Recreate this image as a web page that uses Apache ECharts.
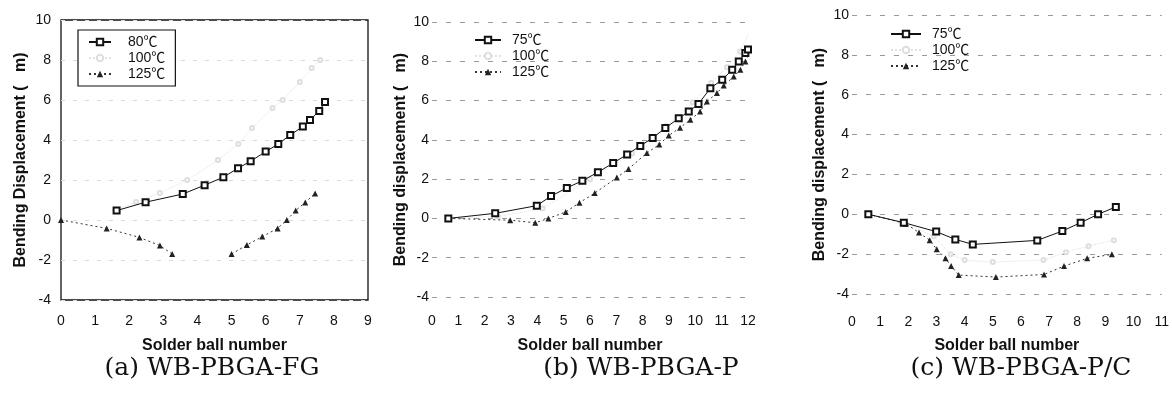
<!DOCTYPE html>
<html><head><meta charset="utf-8">
<script src="https://cdn.jsdelivr.net/npm/echarts@6/dist/echarts.min.js"></script>
<style>html,body{margin:0;padding:0;background:#fff}#c{width:1172px;height:394px}</style>
</head><body><div id="c"></div>
<script>
// ---------- Panel (a) WB-PBGA-FG ----------
const aTicksX = [0,1,2,3,4,5,6,7,8,9];
const a80X  = [1.63, 2.48, 3.57, 4.21, 4.76, 5.19, 5.56, 6.00, 6.37, 6.72, 7.09, 7.30, 7.57, 7.74];
const a80Y  = [0.47, 0.89, 1.30, 1.74, 2.14, 2.59, 2.94, 3.42, 3.80, 4.25, 4.67, 5.00, 5.45, 5.90];
const a100X = [1.60, 2.20, 2.90, 3.70, 4.60, 5.20, 5.60, 6.20, 6.50, 7.00, 7.35, 7.60];
const a100Y = [0.50, 0.90, 1.35, 2.00, 3.00, 3.80, 4.60, 5.60, 6.00, 6.90, 7.60, 8.00];
const a125X = [0, 1.34, 2.30, 2.90, 3.26, null, 5.00, 5.45, 5.90, 6.35, 6.62, 6.88, 7.16, 7.45];
const a125Y = [0, -0.42, -0.87, -1.28, -1.70, null, -1.70, -1.25, -0.83, -0.42, 0, 0.47, 0.88, 1.33];

// ---------- Panel (b) WB-PBGA-P ----------
const b75X  = [0.62, 2.40, 3.98, 4.52, 5.12, 5.71, 6.30, 6.88, 7.41, 7.91, 8.38, 8.86, 9.37, 9.75, 10.12, 10.57, 11.02, 11.40, 11.65, 11.90, 12.00];
const b75Y  = [0, 0.26, 0.65, 1.14, 1.55, 1.92, 2.35, 2.82, 3.26, 3.69, 4.10, 4.60, 5.10, 5.44, 5.83, 6.63, 7.06, 7.57, 7.99, 8.42, 8.60];
const b100X = [0.62, 2.50, 4.20, 6.00, 7.60, 8.90, 9.90, 10.60, 11.20, 11.70, 12.10];
const b100Y = [0, 0.10, 0.50, 2.00, 3.30, 4.70, 5.90, 6.90, 7.70, 8.50, 9.60];
const b125X = [0.62, 2.97, 3.92, 4.42, 5.08, 5.60, 6.18, 7.02, 7.46, 8.16, 8.63, 8.99, 9.42, 9.81, 10.18, 10.44, 10.82, 11.08, 11.46, 11.71, 11.90, 12.03];
const b125Y = [0, -0.09, -0.22, 0, 0.33, 0.80, 1.29, 2.08, 2.52, 3.33, 3.76, 4.22, 4.62, 5.02, 5.44, 5.95, 6.38, 6.77, 7.22, 7.57, 7.99, 8.33];

// ---------- Panel (c) WB-PBGA-P/C ----------
const c75X  = [0.58, 1.84, 2.99, 3.67, 4.29, 6.58, 7.47, 8.12, 8.74, 9.37];
const c75Y  = [0, -0.42, -0.87, -1.26, -1.51, -1.31, -0.84, -0.42, 0, 0.37];
const c100X = [0.58, 1.90, 2.90, 3.50, 4.00, 5.00, 6.80, 7.60, 8.40, 9.30];
const c100Y = [0, -0.45, -1.10, -2.00, -2.30, -2.40, -2.30, -1.90, -1.60, -1.30];
const c125X = [0.58, 1.91, 2.38, 2.76, 3.01, 3.32, 3.52, 3.79, 5.11, 6.82, 7.53, 8.35, 9.23];
const c125Y = [0, -0.47, -0.92, -1.30, -1.76, -2.21, -2.60, -3.05, -3.15, -3.02, -2.60, -2.21, -2.01];

const captions = ['(a) WB-PBGA-FG', '(b) WB-PBGA-P', '(c) WB-PBGA-P/C'];
const yNames = ['Bending Displacement (   m)', 'Bending displacement (   m)', 'Bending displacement (   m)'];
const xName = 'Solder ball number';
const namesA = ['80℃', '100℃', '125℃'];
const namesBC = ['75℃', '100℃', '125℃'];

function pts(xs, ys) { return xs.map((x, i) => x == null ? ['-', '-'] : [x, ys[i]]); }

const SANS = '"Liberation Sans", Arial, "Noto Sans CJK KR", sans-serif';
const grids = [
  {left: 61, top: 20, width: 307, height: 280, show: true, borderColor: '#111', borderWidth: 1.3, backgroundColor: 'transparent'},
  {left: 432, top: 22, width: 316, height: 275},
  {left: 852, top: 15, width: 311, height: 279}
];
const xMax = [9, 12, 11];
const xLabMargin = [14, 17, 21];
const xNameGap = [38, 41, 44];
const yNameGap = [32, 23, 24];
const yLabMargin = [10, 3, 3];
const gridLine = [
  {color: '#dadada', type: [4, 8], width: 1},
  {color: '#9a9a9a', type: [5, 9], width: 1},
  {color: '#9a9a9a', type: [5, 9], width: 1}
];

const xAxis = [0,1,2].map(i => ({
  gridIndex: i, type: 'value', min: 0, max: xMax[i], interval: 1,
  axisLine: {show: false}, axisTick: {show: false}, splitLine: {show: false},
  axisLabel: {color: '#111', fontSize: 14, fontFamily: SANS, margin: xLabMargin[i]},
  name: xName, nameLocation: 'middle', nameGap: xNameGap[i],
  nameTextStyle: {color: '#111', fontSize: 16, fontWeight: 'bold', fontFamily: SANS}
}));
const yAxis = [0,1,2].map(i => ({
  gridIndex: i, type: 'value', min: -4, max: 10, interval: 2,
  axisLine: {show: false}, axisTick: {show: false},
  splitLine: {show: true, lineStyle: gridLine[i]},
  axisLabel: {color: '#111', fontSize: 14, fontFamily: SANS, margin: yLabMargin[i]},
  name: yNames[i], nameLocation: 'middle', nameGap: yNameGap[i],
  nameTextStyle: {color: '#111', fontSize: 16, fontWeight: 'bold', fontFamily: SANS}
}));

function sSolid(name, gi, data) {
  return {name, type: 'line', xAxisIndex: gi, yAxisIndex: gi, data,
    symbol: 'emptyRect', symbolSize: 6, showSymbol: true,
    lineStyle: {color: '#111', width: 1, type: 'solid'},
    itemStyle: {color: '#111', borderColor: '#111', borderWidth: 1}, z: 3};
}
function sFaint(name, gi, data) {
  return {name, type: 'line', xAxisIndex: gi, yAxisIndex: gi, data,
    symbol: 'emptyCircle', symbolSize: 4,
    lineStyle: {color: '#e2e2e2', width: 1, type: 'dotted'},
    itemStyle: {color: '#dedede', borderColor: '#dedede', borderWidth: 0.8}, z: 1};
}
function sTri(name, gi, data) {
  return {name, type: 'line', xAxisIndex: gi, yAxisIndex: gi, data,
    symbol: 'triangle', symbolSize: 6,
    lineStyle: {color: '#333', width: 1, type: [2, 3]},
    itemStyle: {color: '#222'}, z: 2};
}

const series = [
  sSolid('80℃', 0, pts(a80X, a80Y)),
  sFaint('100℃', 0, pts(a100X, a100Y)),
  sTri('125℃', 0, pts(a125X, a125Y)),
  sSolid('75℃', 1, pts(b75X, b75Y)),
  sFaint('100℃', 1, pts(b100X, b100Y)),
  sTri('125℃', 1, pts(b125X, b125Y)),
  sSolid('75℃', 2, pts(c75X, c75Y)),
  sFaint('100℃', 2, pts(c100X, c100Y)),
  sTri('125℃', 2, pts(c125X, c125Y))
];

const legTxt = {color: '#111', fontSize: 14, fontFamily: SANS, padding: [0, 0, 0, 6]};
const legend = [
  {data: namesA, orient: 'vertical', left: 78, top: 30, itemWidth: 22, itemHeight: 8, itemGap: 2,
   padding: [5, 10, 5, 10], borderColor: '#111', borderWidth: 1.2, backgroundColor: '#fff',
   selectedMode: false, textStyle: Object.assign({}, legTxt, {padding: [0, 0, 0, 12]})},
  {data: namesBC, orient: 'vertical', left: 474, top: 33, itemWidth: 26, itemHeight: 8, itemGap: 2,
   padding: 0, selectedMode: false, textStyle: legTxt},
  {data: namesBC, orient: 'vertical', left: 890, top: 27, itemWidth: 30, itemHeight: 8, itemGap: 2,
   padding: 0, selectedMode: false, textStyle: legTxt}
];

const capX = [207, 636, 1016];
const title = captions.map((t, i) => ({
  text: t, left: capX[i], top: 351, textAlign: 'center',
  textStyle: {fontFamily: '"DejaVu Serif", "Liberation Serif", serif', fontWeight: 'normal', fontSize: 25, color: '#111'}
}));

const chart = echarts.init(document.getElementById('c'), null, {renderer: 'canvas'});
chart.setOption({animation: false, backgroundColor: '#fff', title, grid: grids, xAxis, yAxis, legend, series});
</script></body></html>
